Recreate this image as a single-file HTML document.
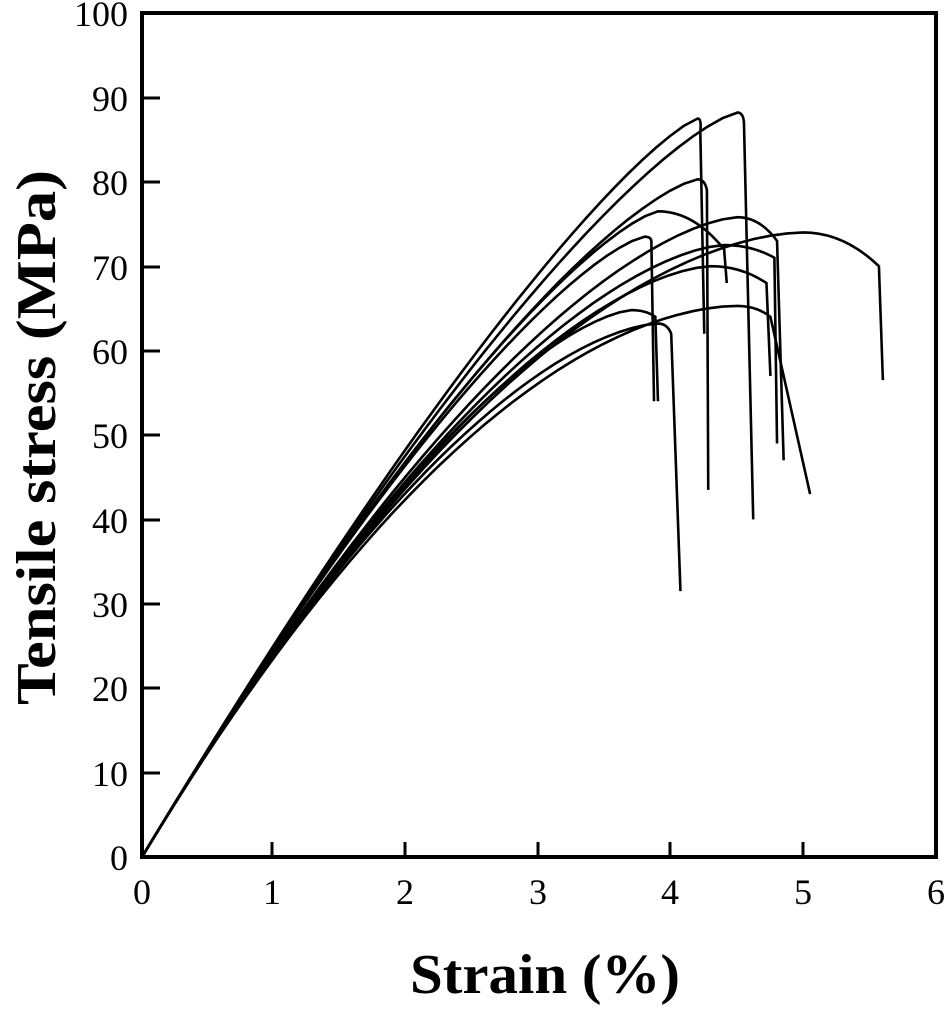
<!DOCTYPE html>
<html><head><meta charset="utf-8"><style>
body{margin:0;background:#fff}
svg text{font-family:"Liberation Serif",serif;fill:#000}
</style></head><body>
<svg id="s" width="945" height="1007" viewBox="0 0 945 1007" xmlns="http://www.w3.org/2000/svg">
<rect x="142" y="13" width="794" height="844" fill="none" stroke="#000" stroke-width="4"/>
<g stroke="#000" stroke-width="3">
<line x1="142" y1="98" x2="160" y2="98"/><line x1="142" y1="182" x2="160" y2="182"/>
<line x1="142" y1="267" x2="160" y2="267"/><line x1="142" y1="351" x2="160" y2="351"/>
<line x1="142" y1="435" x2="160" y2="435"/><line x1="142" y1="520" x2="160" y2="520"/>
<line x1="142" y1="604" x2="160" y2="604"/><line x1="142" y1="688" x2="160" y2="688"/>
<line x1="142" y1="773" x2="160" y2="773"/>
<line x1="272" y1="857" x2="272" y2="842"/><line x1="405" y1="857" x2="405" y2="842"/>
<line x1="538" y1="857" x2="538" y2="842"/><line x1="670" y1="857" x2="670" y2="842"/>
<line x1="803" y1="857" x2="803" y2="842"/>
</g>
<g font-size="36" text-anchor="end">
<text x="128" y="26">100</text><text x="128" y="111">90</text><text x="128" y="195">80</text>
<text x="128" y="280">70</text><text x="128" y="364">60</text><text x="128" y="448">50</text>
<text x="128" y="533">40</text><text x="128" y="617">30</text><text x="128" y="701">20</text>
<text x="128" y="786">10</text><text x="128" y="870">0</text>
</g>
<g font-size="36" text-anchor="middle">
<text x="142" y="904">0</text><text x="272" y="904">1</text><text x="405" y="904">2</text>
<text x="538" y="904">3</text><text x="670" y="904">4</text><text x="803" y="904">5</text><text x="936" y="904">6</text>
</g>
<text x="410" y="993" font-size="56" font-weight="bold" textLength="270" lengthAdjust="spacingAndGlyphs">Strain (%)</text>
<text transform="translate(55,705) rotate(-90)" font-size="56" font-weight="bold" textLength="535" lengthAdjust="spacingAndGlyphs">Tensile stress (MPa)</text>
<g id="c" fill="none" stroke="#000" stroke-width="2.6"></g>
</svg>
<script>
var X=function(x){return 142+x*132.3},Y=function(y){return 857-y*8.44};
var C=[[4.2,87.5,4.22,86,4.25,62],[4.5,88.2,4.55,87,4.62,40],[4.2,80.3,4.27,79,4.28,43.5],
[3.9,76.5,4.4,72,4.42,68],[4.5,75.8,4.8,73,4.85,47],[5.0,74,5.57,70,5.6,56.5],
[3.8,73.5,3.85,73,3.87,54],[4.3,70,4.72,68,4.75,57],[4.4,72.5,4.78,71,4.8,49],
[4.5,65.3,4.75,64,5.05,43],[3.7,64.8,3.88,64,3.9,54],[3.9,63.2,4.0,62,4.07,31.5]];
var g=document.getElementById('c'),h='';
C.forEach(function(c){var xp=c[0],yp=c[1],n=26*xp/yp;if(n<1.15)n=1.15;
var d='M'+X(0)+' '+Y(0);for(var i=1;i<=40;i++){var x=xp*i/40,y=yp*(1-Math.pow(1-x/xp,n));d+=' L'+X(x).toFixed(1)+' '+Y(y).toFixed(1);}
d+=' Q'+X((xp+c[2])/2+0.02)+' '+Y(yp)+' '+X(c[2])+' '+Y(c[3])+' L'+X(c[4])+' '+Y(c[5]);
h+='<path d="'+d+'"/>';});
g.innerHTML=h;
</script>
</body></html>
